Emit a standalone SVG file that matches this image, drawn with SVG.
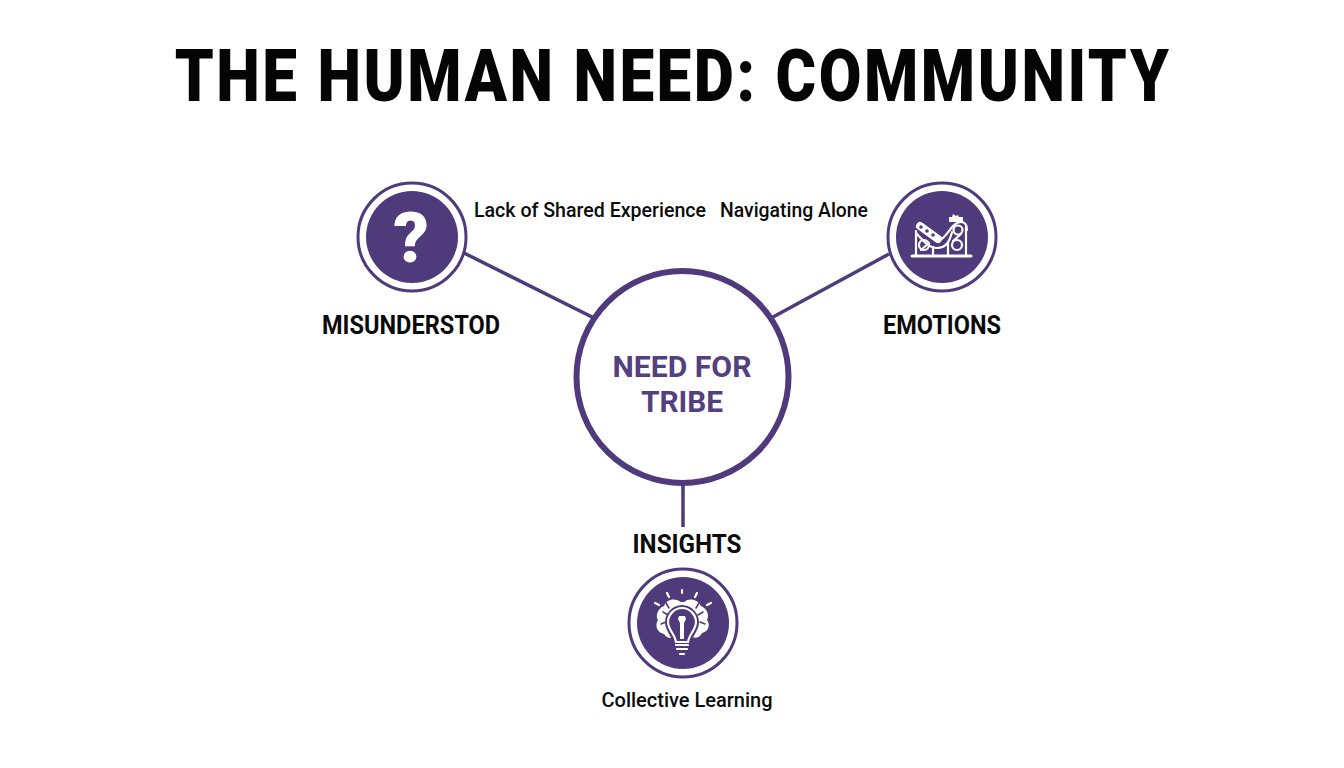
<svg xmlns="http://www.w3.org/2000/svg" width="1344" height="768" viewBox="0 0 1344 768">
<style>
text{font-family:Roboto,"Liberation Sans",sans-serif;font-weight:700;text-anchor:middle;fill:#0b0b0b}
.lab{font-size:25px}
.sub{font-size:20px;font-weight:500}
.ring{fill:#fff;stroke:#4f3a7c;stroke-width:3}
.disc{fill:#4f3a7c}
.ln{stroke:#4f3a7c;stroke-width:3.500;fill:none}
.ic{stroke:#fff;fill:none;stroke-width:2.200;stroke-linecap:round;stroke-linejoin:round}
.icf{fill:#fff;stroke:none}
.dk{fill:none;stroke:#4f3a7c;stroke-width:1.500;stroke-linecap:round}
</style>
<rect width="1344" height="768" fill="#fff"/>
<text transform="translate(673 101) scale(0.8485 1)" font-size="73" style="font-weight:900;letter-spacing:3px;fill:#050505">THE HUMAN NEED: COMMUNITY</text>
<g id="connectors">
<line class="ln" x1="464" y1="253" x2="594" y2="318"/>
<line class="ln" x1="889" y1="254" x2="773" y2="317"/>
<line class="ln" x1="683" y1="484" x2="683" y2="527"/>
</g>
<g id="node-center">
<circle cx="682.500" cy="377" r="106" fill="#fff" stroke="#4f3a7c" stroke-width="6"/>
<text x="682" y="377" font-size="30" style="fill:#53407f" textLength="139" lengthAdjust="spacingAndGlyphs">NEED FOR</text>
<text x="682" y="412" font-size="30" style="fill:#53407f" textLength="82" lengthAdjust="spacingAndGlyphs">TRIBE</text>
</g>
<g id="node-misunderstood">
<circle class="ring" cx="412" cy="237" r="54"/>
<circle class="disc" cx="412" cy="237" r="46"/>
<text x="411" y="262" font-size="70" style="fill:#fff;font-weight:900">?</text>
<text class="lab" x="411" y="334" textLength="178" lengthAdjust="spacingAndGlyphs">MISUNDERSTOD</text>
<text class="sub" x="590" y="217" textLength="232" lengthAdjust="spacingAndGlyphs">Lack of Shared Experience</text>
</g>
<g id="node-emotions">
<circle class="ring" cx="942" cy="237" r="54"/>
<circle class="disc" cx="942" cy="237" r="46"/>
<g class="ic">
<path d="M912 256H971" stroke-width="3"/>
<path d="M916 231V256M966 226V256M933 247V256M948 243V256"/>
<path d="M916 233C924 242 930 248 937 248C947 248 950 240 952 232"/>
<path d="M940 240C948 236 952 222 961 222C965 222 967 225 967 230"/>
<circle cx="958" cy="230" r="4.500"/><circle cx="924" cy="245" r="5"/><circle cx="957" cy="245" r="5"/>
<path d="M953 241L961 234M929 243L921 250"/>
</g>
<path d="M920 226L938 239" stroke="#fff" stroke-width="8" fill="none" stroke-linecap="round"/>
<circle cx="921" cy="227" r="1.800" fill="#4f3a7c"/><circle cx="927" cy="231" r="1.800" fill="#4f3a7c"/><circle cx="933" cy="235" r="1.800" fill="#4f3a7c"/>
<path class="icf" d="M949 222l0-5 3 0 1-3 3 2 2 -1 1 2 4 0 0 5z"/>
<text class="lab" x="942" y="334" textLength="118" lengthAdjust="spacingAndGlyphs">EMOTIONS</text>
<text class="sub" x="794" y="217" textLength="148" lengthAdjust="spacingAndGlyphs">Navigating Alone</text>
</g>
<g id="node-insights">
<circle class="ring" cx="683" cy="623" r="54"/>
<circle class="disc" cx="683" cy="623" r="46"/>
<path class="icf" d="M681 602C674 597 666 600 664 606C658 608 655 616 658 620C654 626 658 633 664 634C668 640 674 638 676 636H690C694 639 700 638 702 633C708 632 711 625 707 620C710 614 706 608 701 606C698 600 690 597 684 602Z"/>
<path d="M663 612l5 3M661 624l5-2M666 603l3 5M703 612l-5 3M705 624l-5-2M699 603l-3 5" class="dk"/>
<path d="M682 605C672 605 665 614 665 622C665 631 672 635 673 645H691C692 635 699 631 699 622C699 614 692 605 682 605Z" fill="#4f3a7c"/>
<path class="ic" d="M682 608C674 608 668 615 668 622C668 630 675 634 676 642H688C689 634 696 630 696 622C696 615 690 608 682 608Z"/>
<path class="icf" d="M679 616h6l1 3-2 4 0 16h-4l0-16-2-4z"/>
<path class="ic" d="M676 645H688M677 649H687M680 654H684"/>
<path class="ic" d="M682 590V593M667 593L669 597M697 593L695 597M655 603L659 605M711 603L707 605"/>
<text class="lab" x="687" y="553" textLength="109" lengthAdjust="spacingAndGlyphs">INSIGHTS</text>
<text class="sub" x="687" y="707" textLength="171" lengthAdjust="spacingAndGlyphs">Collective Learning</text>
</g>
</svg>
